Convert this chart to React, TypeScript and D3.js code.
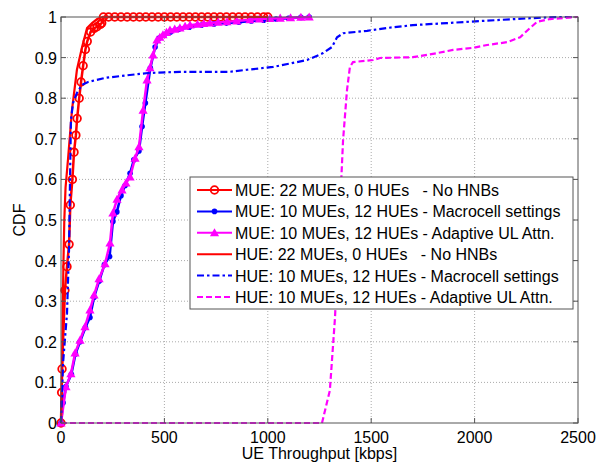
import React from 'react';
import * as d3 from 'd3';

type Pt = [number, number];

const xTicks = [0, 500, 1000, 1500, 2000, 2500];
const yTicks = [0, 0.1, 0.2, 0.3, 0.4, 0.5, 0.6, 0.7, 0.8, 0.9, 1];

// MUE, 22 MUEs / 0 HUEs, no HNBs (red, circles)
const mueNoHnb: Pt[] = [
  [0, 0], [3, 0.075], [5, 0.133], [19, 0.327], [29, 0.385], [39, 0.44], [45, 0.537],
  [55, 0.6], [63, 0.667], [72, 0.709], [78, 0.75], [88, 0.8], [97, 0.84], [107, 0.88],
  [118, 0.92], [127, 0.94], [143, 0.963], [160, 0.972], [174, 0.976], [190, 0.982],
  [197, 0.985], [205, 1], [230, 1], [260, 1], [290, 1], [320, 1], [350, 1], [380, 1],
  [410, 1], [440, 1], [470, 1], [500, 1], [530, 1], [560, 1], [590, 1], [620, 1],
  [650, 1], [680, 1], [710, 1], [740, 1], [770, 1], [800, 1], [830, 1], [860, 1],
  [890, 1], [920, 1], [950, 1], [980, 1], [1000, 1],
];

// MUE, 10 MUEs / 12 HUEs, macrocell settings (blue, dots)
const mueMacro: Pt[] = [
  [0, 0], [10, 0.05], [24, 0.09], [50, 0.12], [70, 0.17], [92, 0.2], [118, 0.235],
  [140, 0.26], [160, 0.31], [185, 0.35], [210, 0.39], [235, 0.41], [251, 0.496],
  [270, 0.52], [290, 0.56], [310, 0.585], [334, 0.615], [352, 0.648], [377, 0.67],
  [392, 0.73], [408, 0.788], [432, 0.874], [455, 0.926], [475, 0.948], [500, 0.957],
  [530, 0.963], [570, 0.97], [620, 0.975], [680, 0.98], [740, 0.983], [800, 0.985],
  [860, 0.987], [920, 0.99], [980, 0.992], [1040, 0.995], [1100, 0.997], [1160, 0.999],
  [1200, 1],
];

// MUE, 10 MUEs / 12 HUEs, adaptive UL attenuation (magenta, triangles)
const mueAdaptive: Pt[] = [
  [0, 0], [24, 0.089], [48, 0.121], [68, 0.172], [92, 0.204], [116, 0.237], [140, 0.278],
  [160, 0.315], [184, 0.355], [213, 0.392], [237, 0.443], [251, 0.517], [271, 0.551],
  [295, 0.574], [314, 0.591], [334, 0.606], [358, 0.652], [377, 0.68], [397, 0.77],
  [416, 0.845], [430, 0.875], [445, 0.906], [464, 0.943], [478, 0.95], [493, 0.956],
  [510, 0.962], [527, 0.968], [550, 0.97], [575, 0.973], [600, 0.977], [624, 0.98],
  [660, 0.982], [690, 0.984], [720, 0.985], [760, 0.987], [803, 0.988], [850, 0.99],
  [914, 0.993], [960, 0.995], [1010, 0.996], [1060, 0.997], [1110, 0.998], [1160, 0.999],
  [1200, 1],
];

// HUE, 22 MUEs / 0 HUEs, no HNBs (red solid)
const hueNoHnb: Pt[] = [
  [0, 0], [3, 0.05], [6, 0.15], [9, 0.3], [12, 0.4], [16, 0.5], [22, 0.58], [34, 0.65],
  [53, 0.77], [77, 0.87], [102, 0.926], [126, 0.973], [150, 0.985], [175, 0.995],
  [200, 1], [1000, 1],
];

// HUE, 10 MUEs / 12 HUEs, macrocell settings (blue dash-dot)
const hueMacro: Pt[] = [
  [0, 0], [10, 0.148], [29, 0.27], [39, 0.43], [42, 0.54], [45, 0.648], [48, 0.746],
  [58, 0.788], [77, 0.813], [102, 0.833], [131, 0.84], [213, 0.85], [295, 0.855],
  [421, 0.862], [575, 0.865], [817, 0.865], [899, 0.87], [1025, 0.877], [1122, 0.887],
  [1190, 0.894], [1267, 0.911], [1310, 0.926], [1335, 0.95], [1364, 0.96], [1480, 0.966],
  [1576, 0.973], [1702, 0.98], [1867, 0.985], [2026, 0.99], [2268, 0.997], [2398, 1],
  [2500, 1],
];

// HUE, 10 MUEs / 12 HUEs, adaptive UL attenuation (magenta dashed)
const hueAdaptive: Pt[] = [
  [0, 0], [1262, 0], [1300, 0.08], [1325, 0.26], [1349, 0.53], [1364, 0.697],
  [1383, 0.82], [1397, 0.877], [1412, 0.889], [1509, 0.894], [1543, 0.899], [1702, 0.901],
  [1818, 0.911], [1896, 0.919], [1992, 0.924], [2060, 0.931], [2157, 0.938], [2220, 0.95],
  [2268, 0.973], [2302, 0.988], [2365, 0.995], [2495, 1], [2500, 1],
];

const legendLabels = [
  'MUE: 22 MUEs, 0 HUEs   - No HNBs',
  'MUE: 10 MUEs, 12 HUEs - Macrocell settings',
  'MUE: 10 MUEs, 12 HUEs - Adaptive UL Attn.',
  'HUE: 22 MUEs, 0 HUEs   - No HNBs',
  'HUE: 10 MUEs, 12 HUEs - Macrocell settings',
  'HUE: 10 MUEs, 12 HUEs - Adaptive UL Attn.',
];

const RED = '#ff0000';
const BLUE = '#0000ff';
const MAG = '#ff00ff';

const series = [
  { data: mueNoHnb, color: RED, dash: undefined, marker: 'circle', w: 2.5 },
  { data: mueMacro, color: BLUE, dash: undefined, marker: 'dot', w: 2.5 },
  { data: mueAdaptive, color: MAG, dash: undefined, marker: 'tri', w: 2.5 },
  { data: hueNoHnb, color: RED, dash: undefined, marker: null, w: 2.2 },
  { data: hueMacro, color: BLUE, dash: '7,3,2.5,3', marker: null, w: 2.2 },
  { data: hueAdaptive, color: MAG, dash: '6,3', marker: null, w: 2.2 },
];

const FONT = 'Liberation Sans, Arial, sans-serif';

function Marker({ kind, x, y, color }: { kind: string | null; x: number; y: number; color: string }) {
  if (kind === 'circle')
    return <circle cx={x} cy={y} r={3.8} fill="none" stroke={color} strokeWidth={1.8} />;
  if (kind === 'dot') return <circle cx={x} cy={y} r={2.8} fill={color} />;
  if (kind === 'tri') {
    const s = 4.6;
    return <path d={`M${x},${y - s}L${x + s},${y + s * 0.75}L${x - s},${y + s * 0.75}Z`} fill={color} />;
  }
  return null;
}

export default function App() {
  const width = 604;
  const height = 465;
  const m = { left: 61, right: 26, top: 17, bottom: 42 };
  const x = d3.scaleLinear().domain([0, 2500]).range([m.left, width - m.right]);
  const y = d3.scaleLinear().domain([0, 1]).range([height - m.bottom, m.top]);
  const line = d3
    .line<Pt>()
    .x((d) => x(d[0]))
    .y((d) => y(d[1]));

  const x0 = x(0);
  const x1 = x(2500);
  const y0 = y(0);
  const y1 = y(1);

  const lg = { x: 190, y: 177, w: 383, h: 132 };
  const rowH = 21.4;

  return (
    <svg
      width={width}
      height={height}
      style={{ position: 'absolute', left: 0, top: 0, background: '#fff' }}
      fontFamily={FONT}
    >
      <rect x={0} y={0} width={width} height={height} fill="#fff" />
      {/* grid */}
      {xTicks.slice(1, -1).map((t) => (
        <line key={'gx' + t} x1={x(t)} x2={x(t)} y1={y0} y2={y1} stroke="#aaa" strokeDasharray="1,2" />
      ))}
      {yTicks.slice(1, -1).map((t) => (
        <line key={'gy' + t} x1={x0} x2={x1} y1={y(t)} y2={y(t)} stroke="#aaa" strokeDasharray="1,2" />
      ))}

      {/* series */}
      {series.map((s, i) => (
        <g key={i}>
          <path
            d={line(s.data) || ''}
            fill="none"
            stroke={s.color}
            strokeWidth={s.w}
            strokeDasharray={s.dash}
          />
          {s.marker &&
            s.data.map((d, j) => (
              <Marker key={j} kind={s.marker} x={x(d[0])} y={y(d[1])} color={s.color} />
            ))}
        </g>
      ))}

      {/* axes box and ticks */}
      <rect x={x0} y={y1} width={x1 - x0} height={y0 - y1} fill="none" stroke="#555" strokeWidth={1} />
      {xTicks.map((t) => (
        <g key={'tx' + t}>
          <line x1={x(t)} x2={x(t)} y1={y0} y2={y0 - 5} stroke="#555" />
          <line x1={x(t)} x2={x(t)} y1={y1} y2={y1 + 5} stroke="#555" />
          <text x={x(t)} y={y0 + 20} textAnchor="middle" fontSize={16}>
            {t}
          </text>
        </g>
      ))}
      {yTicks.map((t) => (
        <g key={'ty' + t}>
          <line x1={x0} x2={x0 + 5} y1={y(t)} y2={y(t)} stroke="#555" />
          <line x1={x1} x2={x1 - 5} y1={y(t)} y2={y(t)} stroke="#555" />
          <text x={x0 - 4} y={y(t) + 6} textAnchor="end" fontSize={16}>
            {d3.format('~g')(t)}
          </text>
        </g>
      ))}

      <text x={(x0 + x1) / 2} y={459} textAnchor="middle" fontSize={16}>
        UE Throughput [kbps]
      </text>
      <text transform={`translate(25,${(y0 + y1) / 2}) rotate(-90)`} textAnchor="middle" fontSize={16}>
        CDF
      </text>

      {/* legend */}
      <rect x={lg.x} y={lg.y} width={lg.w} height={lg.h} fill="#fff" stroke="#555" strokeWidth={1} />
      {series.map((s, i) => {
        const cy = lg.y + 13 + i * rowH;
        return (
          <g key={'lg' + i}>
            <line
              x1={197}
              x2={232}
              y1={cy}
              y2={cy}
              stroke={s.color}
              strokeWidth={2}
              strokeDasharray={s.dash}
            />
            {s.marker && <Marker kind={s.marker} x={214.5} y={cy} color={s.color} />}
            <text x={235} y={cy + 6} fontSize={16} style={{ whiteSpace: 'pre' }}>
              {legendLabels[i]}
            </text>
          </g>
        );
      })}
    </svg>
  );
}
